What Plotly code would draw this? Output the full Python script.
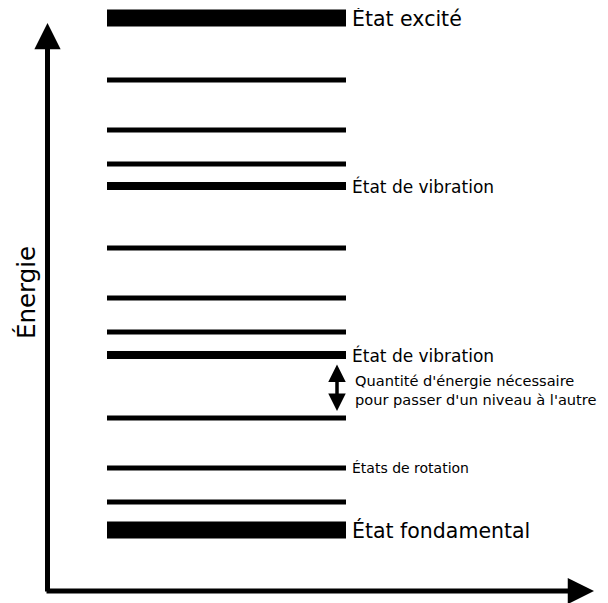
import plotly.graph_objects as go

# niveaux d'énergie (unités arbitraires, 0 = bas de la figure)
energies = [585, 523, 473, 439, 417, 355, 305, 271, 248, 185, 135, 101, 73]
kinds = ["fort", "fin", "fin", "fin", "moyen", "fin", "fin", "fin", "moyen",
         "fin", "fin", "fin", "fort"]
x_start, x_end = 107, 346

labels = {
    585: ("État excité", 20.5),
    417: ("État de vibration", 17),
    248: ("État de vibration", 17),
    135: ("États de rotation", 14),
    73: ("État fondamental", 20.5),
}

widths = {"fort": 17, "moyen": 8, "fin": 5}
FONT = "DejaVu Sans"

fig = go.Figure()
for e, k in zip(energies, kinds):
    fig.add_trace(go.Scatter(x=[x_start, x_end], y=[e, e], mode="lines",
                             line=dict(color="black", width=widths[k]),
                             hoverinfo="skip", showlegend=False))

for e, (txt, size) in labels.items():
    fig.add_annotation(x=x_end + 4, y=e, text=txt, showarrow=False,
                       xanchor="left", yanchor="middle",
                       font=dict(family=FONT, size=size, color="black"))

fig.add_annotation(x=x_end + 7, y=213,
                   text="Quantité d'énergie nécessaire<br>pour passer d'un niveau à l'autre",
                   showarrow=False, xanchor="left", yanchor="middle", align="left",
                   font=dict(family=FONT, size=14.6, color="black"))

# flèche double entre deux niveaux de vibration
fig.add_annotation(x=337, y=192, ax=337, ay=240, xref="x", yref="y",
                   axref="x", ayref="y", text="", showarrow=True,
                   arrowhead=2, startarrowhead=2, arrowside="end+start",
                   arrowsize=1.0, startarrowsize=1.0, arrowwidth=3.5,
                   arrowcolor="black")

# axes (flèches)
fig.add_annotation(x=47.5, y=580, ax=47.5, ay=10, xref="x", yref="y",
                   axref="x", ayref="y", text="", showarrow=True,
                   arrowhead=2, arrowsize=1.05, arrowwidth=5, arrowcolor="black")
fig.add_annotation(x=594, y=12, ax=45, ay=12, xref="x", yref="y",
                   axref="x", ayref="y", text="", showarrow=True,
                   arrowhead=2, arrowsize=1.05, arrowwidth=5, arrowcolor="black")

fig.add_annotation(x=26, y=310, text="Énergie", showarrow=False, textangle=-90,
                   font=dict(family=FONT, size=24.5, color="black"))

# la page HTML décale la figure de 8 px (marge du body)
fig.update_layout(width=600, height=595, margin=dict(l=0, r=0, t=0, b=0),
                  plot_bgcolor="white", paper_bgcolor="white",
                  xaxis=dict(range=[8, 608], visible=False, fixedrange=True),
                  yaxis=dict(range=[0, 595], visible=False, fixedrange=True))
fig.write_html("out.html")
